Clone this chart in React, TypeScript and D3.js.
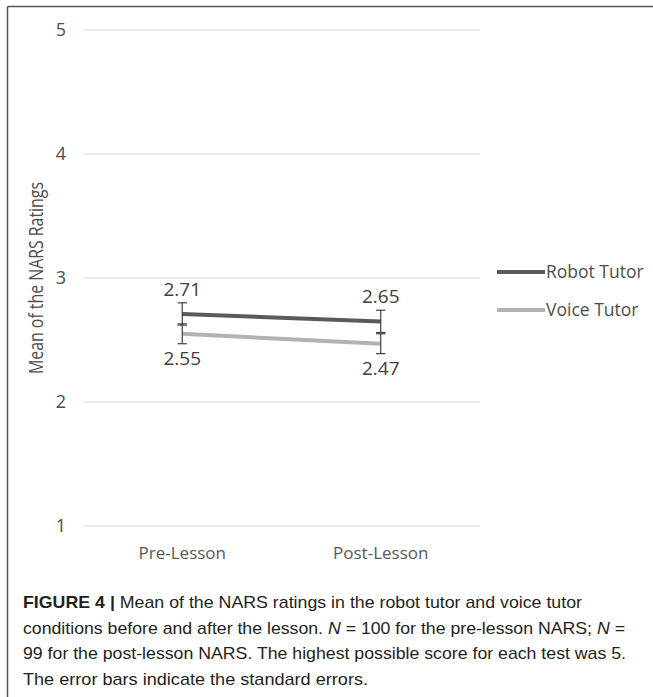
import * as d3 from 'd3';

const categories = ['Pre-Lesson', 'Post-Lesson'];
const robotMeans = [2.71, 2.65];
const voiceMeans = [2.55, 2.47];
const robotSE = [0.09, 0.09];
const voiceSE = [0.08, 0.08];
const yTicks = [1, 2, 3, 4, 5];
const seriesNames = ['Robot Tutor', 'Voice Tutor'];
const seriesColors = ['#5a5a5a', '#b2b2b2'];

const W = 653;
const H = 697;
const PLOT = { left: 83, right: 480, top: 30, bottom: 526 };
const FONT = "'Open Sans', 'Noto Sans', sans-serif";

export default function App() {
  const x = d3
    .scalePoint<string>()
    .domain(categories)
    .range([PLOT.left, PLOT.right])
    .padding(0.5);
  const y = d3.scaleLinear().domain([1, 5]).range([PLOT.bottom, PLOT.top]);

  const line = d3
    .line<number>()
    .x((_, i) => x(categories[i]) as number)
    .y((d) => y(d));

  const series = [
    { name: seriesNames[0], means: robotMeans, se: robotSE, color: seriesColors[0], dir: -1 },
    { name: seriesNames[1], means: voiceMeans, se: voiceSE, color: seriesColors[1], dir: 1 },
  ];

  return (
    <svg
      width={W}
      height={H}
      style={{ position: 'absolute', left: 0, top: 0, background: '#fff' }}
    >
      {/* frame */}
      <line x1={7.5} y1={6.5} x2={W} y2={6.5} stroke="#555" strokeWidth={1.5} />
      <line x1={7.5} y1={6.5} x2={7.5} y2={H} stroke="#555" strokeWidth={1.5} />

      {/* grid + y ticks */}
      {yTicks.map((t) => (
        <g key={t}>
          <line x1={PLOT.left} x2={PLOT.right} y1={y(t)} y2={y(t)} stroke="#d9d9d9" strokeWidth={1.2} />
          <text
            x={66}
            y={y(t)}
            dy="0.35em"
            textAnchor="end"
            fontFamily={FONT}
            fontSize={18}
            fill="#4d4d4d"
          >
            {t}
          </text>
        </g>
      ))}

      {/* category labels */}
      {categories.map((c) => (
        <text
          key={c}
          x={x(c)}
          y={553}
          dy="0.35em"
          textAnchor="middle"
          fontFamily={FONT}
          fontSize={17}
          fill="#595959"
        >
          {c}
        </text>
      ))}

      {/* y title */}
      <text
        transform={`translate(36,${(PLOT.top + PLOT.bottom) / 2}) rotate(-90)`}
        textAnchor="middle"
        dy="0.35em"
        fontFamily={FONT}
        fontSize={19.5}
        fill="#4d4d4d"
        textLength={192}
        lengthAdjust="spacingAndGlyphs"
      >
        Mean of the NARS Ratings
      </text>

      {/* lines */}
      {series.map((s) => (
        <path key={s.name} d={line(s.means) ?? ''} fill="none" stroke={s.color} strokeWidth={4} />
      ))}

      {/* error bars */}
      {series.map((s) =>
        s.means.map((m, i) => {
          const cx = x(categories[i]) as number;
          const top = y(m + s.se[i]);
          const bot = y(m - s.se[i]);
          return (
            <g key={s.name + i} stroke="#404040" strokeWidth={1.2}>
              <line x1={cx} x2={cx} y1={top} y2={bot} />
              <line x1={cx - 4.7} x2={cx + 4.7} y1={top} y2={top} />
              <line x1={cx - 4.7} x2={cx + 4.7} y1={bot} y2={bot} />
            </g>
          );
        })
      )}

      {/* data labels */}
      {series.map((s) =>
        s.means.map((m, i) => (
          <text
            key={'l' + s.name + i}
            x={x(categories[i])}
            y={y(m) + s.dir * 25}
            dy="0.35em"
            textAnchor="middle"
            fontFamily={FONT}
            fontSize={19}
            fill="#404040"
          >
            {m.toFixed(2)}
          </text>
        ))
      )}

      {/* legend */}
      {series.map((s, i) => (
        <g key={'leg' + s.name} transform={`translate(497,${272 + i * 38})`}>
          <line x1={0} x2={48} y1={0} y2={0} stroke={s.color} strokeWidth={4} />
          <text x={49} y={0} dy="0.35em" fontFamily={FONT} fontSize={17.5} fill="#4d4d4d">
            {s.name}
          </text>
        </g>
      ))}

      {/* caption */}
      <g fontFamily="'Liberation Sans', Arial, sans-serif" fontSize={17} fill="#231f20">
        <text x={23} y={608} textLength={559} lengthAdjust="spacingAndGlyphs">
          <tspan fontWeight="bold">FIGURE 4 |</tspan> Mean of the NARS ratings in the robot tutor and voice tutor
        </text>
        <text x={23} y={633.5} textLength={602} lengthAdjust="spacingAndGlyphs">
          conditions before and after the lesson. <tspan fontStyle="italic">N</tspan> = 100 for the pre-lesson NARS;{' '}
          <tspan fontStyle="italic">N</tspan> =
        </text>
        <text x={23} y={659} textLength={603} lengthAdjust="spacingAndGlyphs">
          99 for the post-lesson NARS. The highest possible score for each test was 5.
        </text>
        <text x={23} y={684.5} textLength={345} lengthAdjust="spacingAndGlyphs">
          The error bars indicate the standard errors.
        </text>
      </g>
    </svg>
  );
}
